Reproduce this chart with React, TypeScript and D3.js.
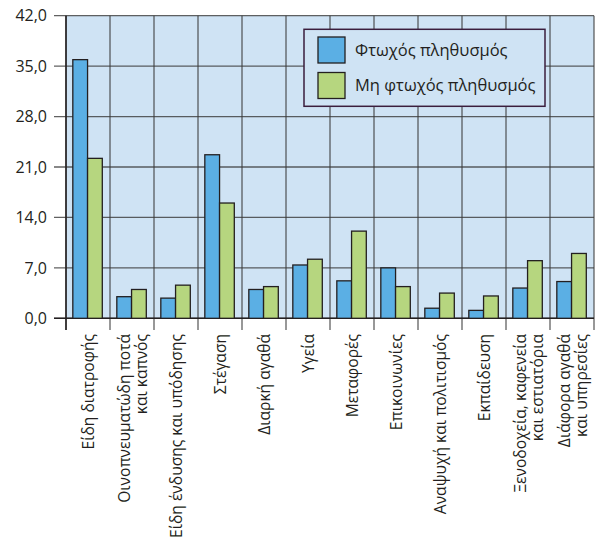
import React from "react";
import * as d3 from "d3";

const categories: string[][] = [
  ["Είδη διατροφής"],
  ["Οινοπνευματώδη ποτά", "και καπνός"],
  ["Είδη ένδυσης και υπόδησης"],
  ["Στέγαση"],
  ["Διαρκή αγαθά"],
  ["Υγεία"],
  ["Μεταφορές"],
  ["Επικοινωνίες"],
  ["Αναψυχή και πολιτισμός"],
  ["Εκπαίδευση"],
  ["Ξενοδοχεία, καφενεία", "και εστιατόρια"],
  ["Διάφορα αγαθά", "και υπηρεσίες"],
];
const poor: number[] = [35.9, 3.0, 2.8, 22.7, 4.0, 7.4, 5.2, 7.0, 1.4, 1.1, 4.2, 5.1];
const nonPoor: number[] = [22.2, 4.0, 4.6, 16.0, 4.4, 8.2, 12.1, 4.4, 3.5, 3.1, 8.0, 9.0];
const seriesNames: string[] = ["Φτωχός πληθυσμός", "Μη φτωχός πληθυσμός"];
const yTicks: number[] = [0, 7, 14, 21, 28, 35, 42];

const W = 595;
const H = 549;
const left = 66;
const right = 594;
const top = 15.7;
const bottom = 318.3;
const BLUE = "#5bafe4";
const GREEN = "#b6d67f";
const BG = "#cfe3f4";
const FONT = "'Open Sans', 'Noto Sans', sans-serif";

export default function App() {
  const x = d3
    .scaleBand<number>()
    .domain(d3.range(categories.length))
    .range([left, right])
    .paddingInner(0)
    .paddingOuter(0);
  const y = d3.scaleLinear().domain([0, 42]).range([bottom, top]);
  const bw = x.bandwidth();
  const barW = bw * 0.335;
  const off = bw * 0.155;
  const fmt = (v: number) => d3.format(".1f")(v).replace(".", ",");

  return (
    <svg
      width={W}
      height={H}
      style={{ position: "absolute", left: 0, top: 0, background: "#fff" }}
      fontFamily={FONT}
    >
      <rect x={left} y={top} width={right - left} height={bottom - top} fill={BG} />
      {yTicks.map((t) => (
        <g key={t}>
          <line x1={54} x2={right} y1={y(t)} y2={y(t)} stroke="#3a3a3a" strokeOpacity={0.8} strokeWidth={1.3} />
          <text x={47} y={y(t)} dy="0.36em" textAnchor="end" fontSize={16} fill="#231f20">
            {fmt(t)}
          </text>
        </g>
      ))}
      {d3.range(categories.length + 1).map((i) => {
        const xv = i < categories.length ? x(i)! : right;
        return (
          <line key={i} x1={xv} x2={xv} y1={top} y2={330} stroke="#3a3a3a" strokeOpacity={0.8} strokeWidth={1.3} />
        );
      })}
      <line x1={left} x2={left} y1={top} y2={330} stroke="#231f20" strokeWidth={1.5} />
      <line x1={54} x2={right} y1={bottom} y2={bottom} stroke="#231f20" strokeWidth={1.5} />
      {categories.map((_, i) => (
        <g key={i}>
          <rect
            x={x(i)! + off}
            y={y(poor[i])}
            width={barW}
            height={y(0) - y(poor[i])}
            fill={BLUE}
            stroke="#231f20"
            strokeWidth={1.3}
          />
          <rect
            x={x(i)! + off + barW}
            y={y(nonPoor[i])}
            width={barW}
            height={y(0) - y(nonPoor[i])}
            fill={GREEN}
            stroke="#231f20"
            strokeWidth={1.3}
          />
        </g>
      ))}
      {categories.map((lines, i) => {
        const cx = x(i)! + bw / 2;
        const n = lines.length;
        return (
          <g key={i}>
            {lines.map((ln, j) => {
              const lx = cx + (j - (n - 1) / 2) * 17.5 + (n > 1 ? 1 : 0);
              return (
                <text
                  key={j}
                  transform={`translate(${lx},334) rotate(-90)`}
                  textAnchor="end"
                  dy="0.36em"
                  fontSize={15.6}
                  fill="#231f20"
                >
                  {ln}
                </text>
              );
            })}
          </g>
        );
      })}
      <rect x={304} y={29.3} width={241} height={77} fill={BG} stroke="#3b1e3d" strokeWidth={1.5} />
      {seriesNames.map((s, i) => (
        <g key={s}>
          <rect
            x={318}
            y={37 + i * 35.5}
            width={27}
            height={26}
            fill={i === 0 ? BLUE : GREEN}
            stroke="#231f20"
            strokeWidth={1.3}
          />
          <text x={355} y={50 + i * 35.5} dy="0.36em" fontSize={16.5} fill="#231f20">
            {s}
          </text>
        </g>
      ))}
    </svg>
  );
}
